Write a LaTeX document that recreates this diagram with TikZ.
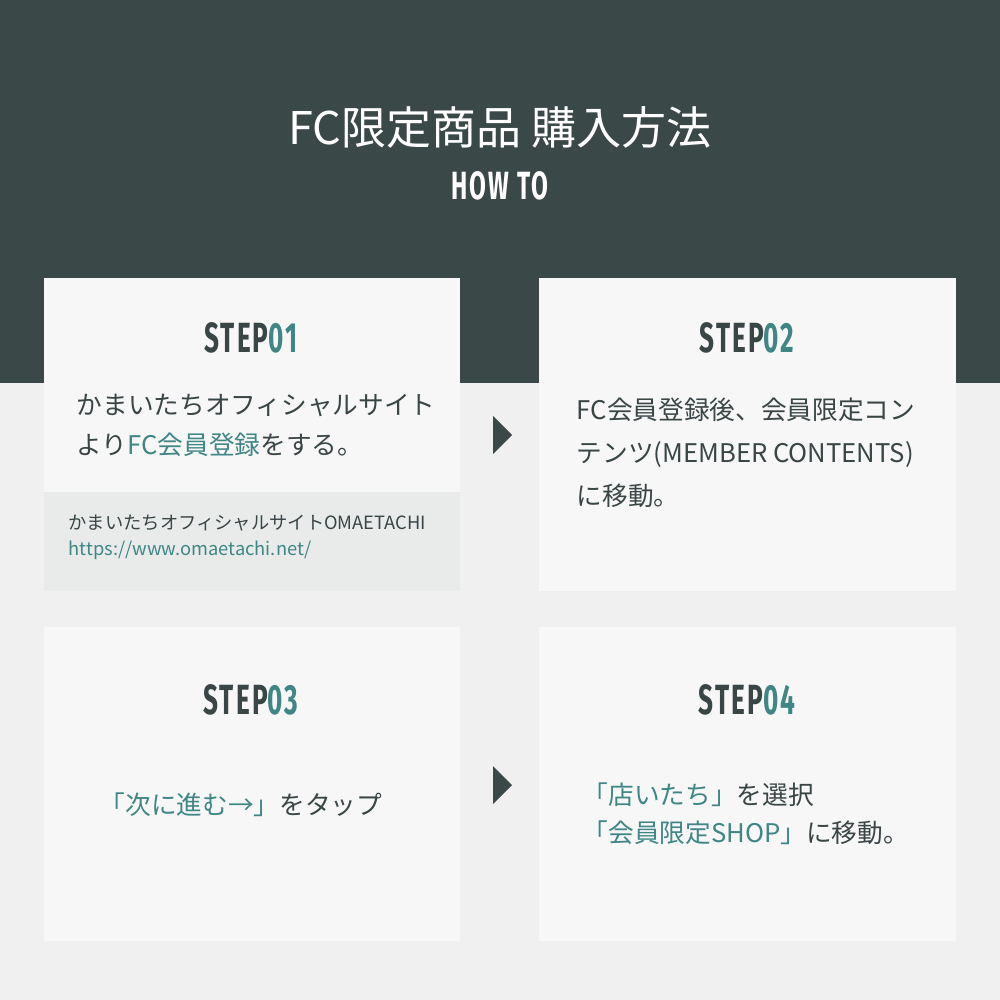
\documentclass[tikz,border=0pt]{standalone}
\usepackage{fontspec}
\setmainfont{Noto Sans CJK JP}
\newfontfamily\stepfont[FakeStretch=0.62,LetterSpace=5]{Fira Sans}
\usetikzlibrary{positioning}
\definecolor{darkbg}{HTML}{3B4848}
\definecolor{teal}{HTML}{3F8685}
\definecolor{pagebg}{HTML}{F0F0F0}
\definecolor{cardbg}{HTML}{F7F7F7}
\definecolor{subbg}{HTML}{E9EBEB}
\definecolor{txt}{HTML}{3A4546}
\tikzset{
  card/.style={fill=cardbg, draw=none, minimum width=4.16cm, minimum height=3.13cm, inner sep=0pt},
  steptitle/.style={text=txt, font=\stepfont\bfseries\fontsize{12}{14}\selectfont, inner sep=0pt},
  body/.style={text=txt, align=left, inner sep=0pt},
  tri/.style={fill=darkbg, draw=none}
}
\newcommand{\tl}[1]{\textcolor{teal}{#1}}
\begin{document}
\begin{tikzpicture}[x=0.01cm,y=-0.01cm]
\useasboundingbox (0,0) rectangle (1000,1000);
\fill[pagebg] (0,0) rectangle (1000,1000);
\fill[darkbg] (0,0) rectangle (1000,383);
% title
\node[text=white, font=\fontsize{12.8}{15}\selectfont, inner sep=0pt] (title) at (500,127) {FC限定商品 購入方法};
\node[text=white, font=\stepfont\bfseries\fontsize{11.2}{13}\selectfont, inner sep=0pt] (howto) at (500,186) {HOW TO};
% cards
\node[card] (c1) at (252,434.5) {};
\node[card] (c2) at (747.5,434.5) {};
\node[card] (c3) at (252,784) {};
\node[card] (c4) at (747.5,784) {};
\node[fill=subbg, minimum width=4.16cm, minimum height=0.99cm, inner sep=0pt] (sub) at (252,541.5) {};
% step titles
\node[steptitle] (s1) at (251,338) {STEP\textcolor{teal}{01}};
\node[steptitle] (s2) at (747,338) {STEP\textcolor{teal}{02}};
\node[steptitle] (s3) at (251,700) {STEP\textcolor{teal}{03}};
\node[steptitle] (s4) at (747,700) {STEP\textcolor{teal}{04}};
% bodies
\node[body, anchor=west, font=\fontsize{7.3}{11.4}\selectfont] (b1) at (76,425)
  {かまいたちオフィシャルサイト\\より\tl{FC会員登録}をする。};
\node[body, anchor=west, font=\fontsize{5.2}{7.4}\selectfont] (b1s) at (68,537)
  {かまいたちオフィシャルサイトOMAETACHI\\\tl{https://www.omaetachi.net/}};
\node[body, anchor=west, font=\fontsize{7.3}{12.2}\selectfont] (b2) at (576,453)
  {FC会員登録後、会員限定コン\\テンツ(MEMBER CONTENTS)\\に移動。};
\node[body, font=\fontsize{7.3}{11}\selectfont] (b3) at (241,805)
  {\tl{「次に進む→」}をタップ};
\node[body, anchor=west, font=\fontsize{7.3}{10.8}\selectfont] (b4) at (582,814)
  {\tl{「店いたち」}を選択\\\tl{「会員限定SHOP」}に移動。};
% arrows
\fill[tri] (493,416) -- (512,435) -- (493,454) -- cycle;
\fill[tri] (493,766) -- (512,785) -- (493,804) -- cycle;
\end{tikzpicture}
\end{document}
